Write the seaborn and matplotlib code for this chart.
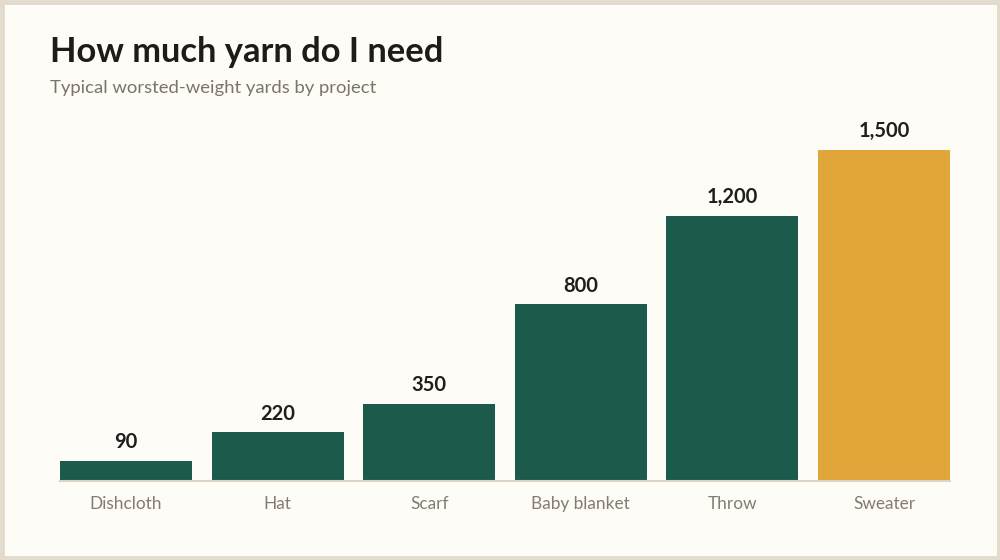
import matplotlib
matplotlib.use("Agg")
import matplotlib.pyplot as plt
import seaborn as sns
import pandas as pd

# data
projects = ["Dishcloth", "Hat", "Scarf", "Baby blanket", "Throw", "Sweater"]
yards = [90, 220, 350, 800, 1200, 1500]
highlight = "Sweater"

BG = "#FDFCF7"
GREEN = "#1C5A4B"
GOLD = "#E0A63A"
BORDER = "#E3DBCC"

sns.set_theme(style="white")
plt.rcParams["font.family"] = ["Lato", "DejaVu Sans"]

df = pd.DataFrame({"project": projects, "yards": yards})
palette = {p: (GOLD if p == highlight else GREEN) for p in projects}

fig = plt.figure(figsize=(10, 5.6), dpi=100, facecolor=BG)
ax = fig.add_axes([0.06, (560 - 481) / 560, 0.89, (481 - 110) / 560])
ax.set_facecolor(BG)

sns.barplot(data=df, x="project", y="yards", hue="project", palette=palette,
            order=projects, width=0.87, saturation=1, legend=False,
            linewidth=0, ax=ax)

ax.set_xlim(-0.435, len(projects) - 1 + 0.435)
ax.set_ylim(0, 1500 * (481 - 110) / 331)

for i, v in enumerate(yards):
    ax.annotate(f"{v:,}", (i, v), xytext=(0, 6.3), textcoords="offset points",
                ha="center", va="bottom", fontsize=14.5, fontweight="bold",
                color="#1E1E1E")

for s in ["top", "right", "left"]:
    ax.spines[s].set_visible(False)
ax.spines["bottom"].set_color("#DCD3C5")
ax.spines["bottom"].set_linewidth(1.5)
ax.set_yticks([])
ax.set_xlabel("")
ax.set_ylabel("")
ax.tick_params(axis="x", length=0, pad=10.5, labelsize=12.4, labelcolor="#857B70")

fig.text(0.05, 1 - 52 / 560, "How much yarn do I need", fontsize=24.8,
         fontweight="bold", color="#1E1B18", va="center", ha="left")
fig.text(0.05, 1 - 88 / 560, "Typical worsted-weight yards by project",
         fontsize=13.3, color="#7D7368", va="center", ha="left")

# border round the figure
fig.patches.append(plt.Rectangle((0.0015, 0.0027), 0.997, 0.9946, transform=fig.transFigure,
                                 fill=False, edgecolor=BORDER, linewidth=3.5))

fig.savefig("out.png", dpi=100, facecolor=BG)
